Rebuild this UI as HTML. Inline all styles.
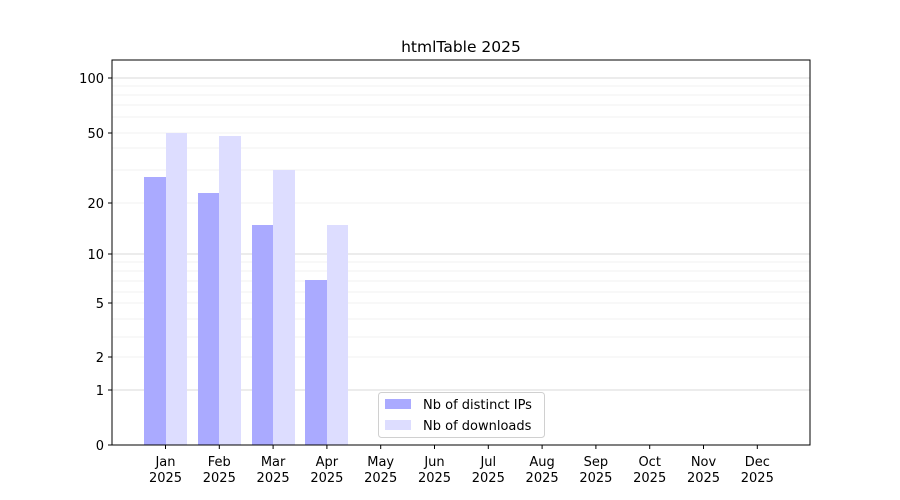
<!DOCTYPE html>
<html><head><meta charset="utf-8"><style>body{margin:0;background:#fff}svg{display:block}text{font-family:"DejaVu Sans","Liberation Sans",sans-serif;font-size:13px;fill:#000}</style></head>
<body>
<svg width="900" height="500" viewBox="0 0 900 500">
<rect width="900" height="500" fill="#fff"/>
<!-- minor grid -->
<g stroke="#ececec" stroke-width="0.8">
<line x1="112" x2="810" y1="357" y2="357"/><line x1="112" x2="810" y1="337" y2="337"/><line x1="112" x2="810" y1="319" y2="319"/><line x1="112" x2="810" y1="303" y2="303"/><line x1="112" x2="810" y1="292" y2="292"/><line x1="112" x2="810" y1="281" y2="281"/><line x1="112" x2="810" y1="271" y2="271"/><line x1="112" x2="810" y1="262" y2="262"/>
<line x1="112" x2="810" y1="203" y2="203"/><line x1="112" x2="810" y1="170" y2="170"/><line x1="112" x2="810" y1="148" y2="148"/><line x1="112" x2="810" y1="133" y2="133"/><line x1="112" x2="810" y1="117" y2="117"/><line x1="112" x2="810" y1="105" y2="105"/><line x1="112" x2="810" y1="95" y2="95"/><line x1="112" x2="810" y1="86" y2="86"/>
</g>
<g stroke="#cccccc" stroke-width="0.8">
<line x1="112" x2="810" y1="390" y2="390"/><line x1="112" x2="810" y1="254" y2="254"/><line x1="112" x2="810" y1="78" y2="78"/>
</g>
<!-- bars -->
<g fill="#aaaaff">
<rect x="144" y="177" width="22" height="268"/><rect x="198" y="193" width="21" height="252"/><rect x="252" y="225" width="21" height="220"/><rect x="305" y="280" width="22" height="165"/>
</g>
<g fill="#ddddff">
<rect x="166" y="133" width="21" height="312"/><rect x="219" y="136" width="22" height="309"/><rect x="273" y="170" width="22" height="275"/><rect x="327" y="225" width="21" height="220"/>
</g>
<rect x="112" y="60" width="698" height="385" fill="none" stroke="#000" stroke-width="1"/>
<!-- y ticks -->
<g stroke="#000"><line x1="108" x2="112" y1="445" y2="445"/><line x1="108" x2="112" y1="390" y2="390"/><line x1="108" x2="112" y1="357" y2="357"/><line x1="108" x2="112" y1="303" y2="303"/><line x1="108" x2="112" y1="254" y2="254"/><line x1="108" x2="112" y1="203" y2="203"/><line x1="108" x2="112" y1="133" y2="133"/><line x1="108" x2="112" y1="78" y2="78"/></g>
<g text-anchor="end"><text x="104" y="450">0</text><text x="104" y="395">1</text><text x="104" y="362">2</text><text x="104" y="308">5</text><text x="104" y="259">10</text><text x="104" y="208">20</text><text x="104" y="138">50</text><text x="104" y="83">100</text></g>
<!-- x ticks -->
<g stroke="#000">
<line x1="165.5" x2="165.5" y1="445" y2="449"/><line x1="219.3" x2="219.3" y1="445" y2="449"/><line x1="273.1" x2="273.1" y1="445" y2="449"/><line x1="326.9" x2="326.9" y1="445" y2="449"/><line x1="380.7" x2="380.7" y1="445" y2="449"/><line x1="434.5" x2="434.5" y1="445" y2="449"/><line x1="488.3" x2="488.3" y1="445" y2="449"/><line x1="542.1" x2="542.1" y1="445" y2="449"/><line x1="595.9" x2="595.9" y1="445" y2="449"/><line x1="649.7" x2="649.7" y1="445" y2="449"/><line x1="703.5" x2="703.5" y1="445" y2="449"/><line x1="757.3" x2="757.3" y1="445" y2="449"/>
</g>
<g text-anchor="middle">
<text x="165.5" y="466">Jan</text><text x="165.5" y="482">2025</text>
<text x="219.3" y="466">Feb</text><text x="219.3" y="482">2025</text>
<text x="273.1" y="466">Mar</text><text x="273.1" y="482">2025</text>
<text x="326.9" y="466">Apr</text><text x="326.9" y="482">2025</text>
<text x="380.7" y="466">May</text><text x="380.7" y="482">2025</text>
<text x="434.5" y="466">Jun</text><text x="434.5" y="482">2025</text>
<text x="488.3" y="466">Jul</text><text x="488.3" y="482">2025</text>
<text x="542.1" y="466">Aug</text><text x="542.1" y="482">2025</text>
<text x="595.9" y="466">Sep</text><text x="595.9" y="482">2025</text>
<text x="649.7" y="466">Oct</text><text x="649.7" y="482">2025</text>
<text x="703.5" y="466">Nov</text><text x="703.5" y="482">2025</text>
<text x="757.3" y="466">Dec</text><text x="757.3" y="482">2025</text>
<text x="461" y="52" style="font-size:15.5px">htmlTable 2025</text>
</g>
<!-- legend -->
<rect x="378.5" y="392.5" width="166" height="45" rx="3" fill="#fff" fill-opacity="0.8" stroke="#d0d0d0"/>
<rect x="385" y="399" width="26" height="10" fill="#aaaaff"/>
<rect x="385" y="420" width="26" height="10" fill="#ddddff"/>
<text x="423" y="409">Nb of distinct IPs</text>
<text x="423" y="430">Nb of downloads</text>
</svg>
</body></html>
